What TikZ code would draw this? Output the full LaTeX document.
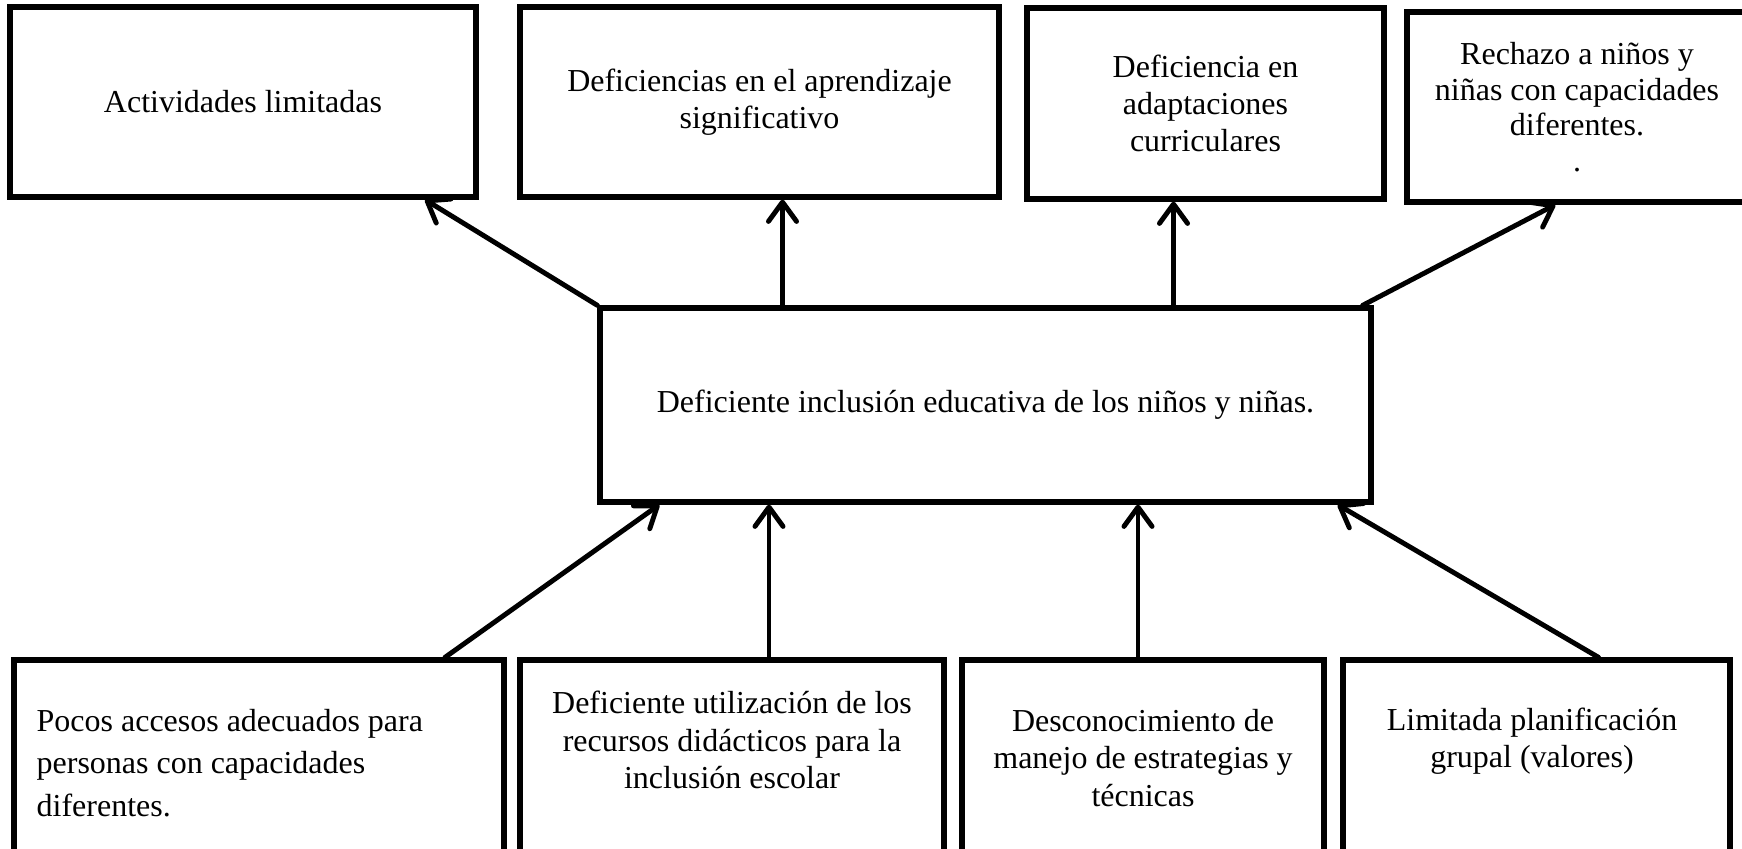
\documentclass[tikz,border=0pt]{standalone}
\usepackage{fontspec}
\setmainfont{Liberation Serif}
\usetikzlibrary{
    arrows.meta,
    calc,
    positioning
}
\tikzset{caja/.style={draw=black, line width=1.5pt, rectangle, align=center, inner sep=0pt, font=\fontsize{9.1}{10.6}\selectfont}}
\tikzset{txt/.style={inner sep=0pt, align=center, font=\fontsize{9.1}{10.6}\selectfont}}
\tikzset{flch/.style={line width=1.4pt, line cap=round, -{Straight Barb[length=5.5pt, width=8pt, round]}}}

\begin{document}
\begin{tikzpicture}[x=0.1mm, y=-0.1mm]
                        \clip (0, 0) rectangle (1742, 849);
                        \node[caja, minimum width=46.6mm, minimum height=19mm] (efe1) at (243, 102) {Actividades limitadas};
                        \node[caja, minimum width=47.9mm, minimum height=19mm] (efe2) at (759.5, 102) {Deficiencias en el aprendizaje\\significativo};
                        \node[caja, minimum width=35.7mm, minimum height=19.1mm] (efe3) at (1205.5, 103.5) {Deficiencia en\\adaptaciones\\curriculares};
                        \node[caja, minimum width=34mm, minimum height=19mm, font=\fontsize{9.1}{10.1}\selectfont] (efe4) at (1577, 107) {Rechazo a niños y\\niñas con capacidades\\diferentes.\\.};
                        \node[caja, minimum width=77.1mm, minimum height=19.4mm] (prob) at (985.5, 405) {Deficiente inclusión educativa de los niños y niñas.};
                        \node[caja, minimum width=49mm, minimum height=21mm] (cau1) at (259, 765) {};
                        \node[caja, minimum width=42.4mm, minimum height=21mm] (cau2) at (732, 765) {};
                        \node[caja, minimum width=36.2mm, minimum height=21mm] (cau3) at (1143, 765) {};
                        \node[caja, minimum width=38.7mm, minimum height=21mm] (cau4) at (1536.5, 765) {};
                        \node[txt, anchor=west, align=left, font=\fontsize{9.1}{12}\selectfont] (tc1) at (36, 763) {Pocos accesos adecuados para\\personas con capacidades\\diferentes.};
                        \node[txt] (tc2) at (732, 740) {Deficiente utilización de los\\recursos didácticos para la\\inclusión escolar};
                        \node[txt] (tc3) at (1143, 758) {Desconocimiento de\\manejo de estrategias y\\técnicas};
                        \node[txt] (tc4) at (1532, 741) {Limitada planificación\\grupal (valores)};
                        \draw[flch] (prob.north west) -- ($(efe1.south)+(182, 0)$);
                        \draw[flch] ($(prob.north)+(-203, 0)$) coordinate (t2) -- (t2 |- efe2.south);
                        \draw[flch] ($(prob.north)+(188, 0)$) coordinate (t3) -- (t3 |- efe3.south);
                        \draw[flch] ($(prob.north east)+(-11, 0)$) -- ($(efe4.south west)+(151, 0)$);
                        \draw[flch] ($(cau1.north)+(186, 0)$) -- ($(prob.south west)+(62, 0)$);
                        \draw[flch] ($(cau2.north)+(37, 0)$) coordinate (t6) -- (t6 |- prob.south);
                        \draw[flch] ($(cau3.north)+(-5, 0)$) coordinate (t7) -- (t7 |- prob.south);
                        \draw[flch] ($(cau4.north)+(62, 0)$) -- ($(prob.south east)+(-36, 0)$);
                    \end{tikzpicture}
\end{document}
